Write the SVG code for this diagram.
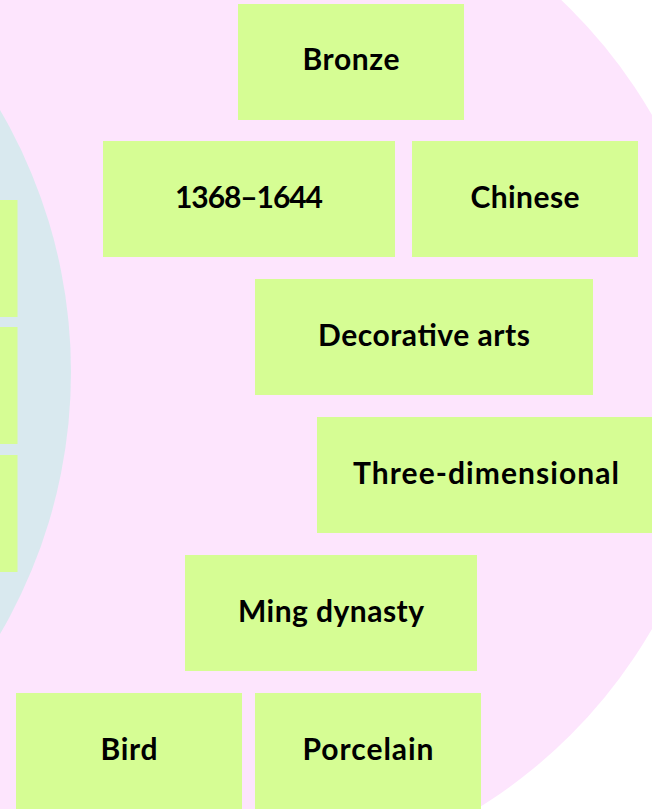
<svg xmlns="http://www.w3.org/2000/svg" width="652" height="809" viewBox="0 0 652 809">
<style>
.n rect{fill:#d6fd94}
.n text{font-family:"Lato","Open Sans","DejaVu Sans",sans-serif;font-weight:700;font-size:30px;fill:#000;text-anchor:middle}
</style>
<rect width="652" height="809" fill="#ffffff"/>
<circle id="outer" cx="208" cy="372" r="513" fill="#fde5fd"/>
<circle id="inner" cx="-448" cy="372" r="519" fill="#d9e9ef"/>
<g id="connectors"/>
<g id="n-left1" class="n"><rect x="-209" y="200" width="226.5" height="117"/></g>
<g id="n-left2" class="n"><rect x="-209" y="327" width="226.5" height="117"/></g>
<g id="n-left3" class="n"><rect x="-209" y="455" width="226.5" height="117"/></g>
<g id="n-bronze" class="n"><rect x="238" y="4" width="226" height="116"/><text x="351" y="70" textLength="97" lengthAdjust="spacing">Bronze</text></g>
<g id="n-years" class="n"><rect x="103" y="141" width="292" height="116"/><text x="249" y="208" textLength="148" lengthAdjust="spacing">1368–1644</text></g>
<g id="n-chinese" class="n"><rect x="412" y="141" width="226" height="116"/><text x="525" y="208" textLength="109" lengthAdjust="spacing">Chinese</text></g>
<g id="n-decorative" class="n"><rect x="255" y="279" width="338" height="116"/><text x="424" y="346" textLength="212" lengthAdjust="spacing">Decorative arts</text></g>
<g id="n-three" class="n"><rect x="317" y="417" width="338" height="116"/><text x="486" y="484" textLength="266" lengthAdjust="spacing">Three-dimensional</text></g>
<g id="n-ming" class="n"><rect x="185" y="555" width="292" height="116"/><text x="331" y="622" textLength="186" lengthAdjust="spacing">Ming dynasty</text></g>
<g id="n-bird" class="n"><rect x="16" y="693" width="226" height="116"/><text x="129" y="760" textLength="57" lengthAdjust="spacing">Bird</text></g>
<g id="n-porcelain" class="n"><rect x="255" y="693" width="226" height="116"/><text x="368" y="760" textLength="131" lengthAdjust="spacing">Porcelain</text></g>
</svg>
